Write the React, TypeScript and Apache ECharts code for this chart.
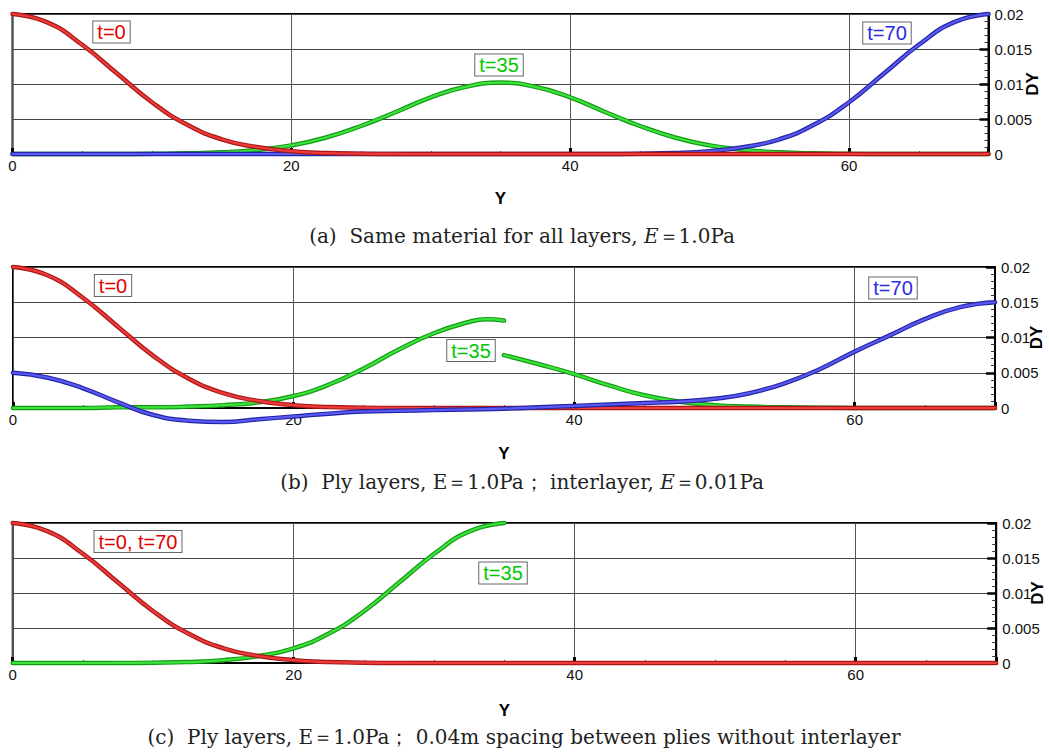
import React, { useEffect, useRef } from "react";
import * as echarts from "echarts";

// Position along Y (x-axis) at 2.5 spacing
const yPositions = [0, 2.5, 5, 7.5, 10, 12.5, 15, 17.5, 20, 22.5, 25, 27.5, 30, 32.5, 35, 37.5, 40, 42.5, 45, 47.5, 50, 52.5, 55, 57.5, 60, 62.5, 65, 67.5, 70];

// (a) same material
const dyA_t0 = [0.02, 0.0188, 0.0156, 0.0115, 0.0074, 0.0042, 0.0021, 0.001, 0.0004, 0.00013, 0.00004, 0.00001, 0, 0, 0, 0, 0, 0, 0, 0, 0, 0, 0, 0, 0, 0, 0, 0, 0];
const dyA_t35 = [0, 0, 0, 0.00001, 0.00003, 0.00009, 0.00024, 0.00058, 0.00123, 0.00236, 0.004, 0.006, 0.0081, 0.0096, 0.0102, 0.0096, 0.0081, 0.006, 0.004, 0.00236, 0.00123, 0.00058, 0.00024, 0.00009, 0.00003, 0.00001, 0, 0, 0];
const dyA_t70 = [0, 0, 0, 0, 0, 0, 0, 0, 0, 0, 0, 0, 0, 0, 0, 0, 0, 0.00001, 0.00004, 0.00013, 0.0004, 0.001, 0.0021, 0.0042, 0.0074, 0.0115, 0.0156, 0.0188, 0.02];

// (b) ply layers with soft interlayer
const dyB_t0 = [0.02, 0.0188, 0.0156, 0.0115, 0.0074, 0.0042, 0.0021, 0.001, 0.0004, 0.00013, 0.00004, 0.00001, 0, 0, 0, 0, 0, 0, 0, 0, 0, 0, 0, 0, 0, 0, 0, 0, 0];
const dyB_t70 = [0.005, 0.0043, 0.0028, 0.0008, -0.001, -0.0018, -0.002, -0.0016, -0.0012, -0.0008, -0.0005, -0.0004, -0.0003, -0.0002, -0.0001, 0.0001, 0.0003, 0.0005, 0.0007, 0.0009, 0.0013, 0.0021, 0.0035, 0.0055, 0.008, 0.0103, 0.0126, 0.0143, 0.015];
const posB_t35Left = [0, 2.5, 5, 7.5, 10, 12.5, 15, 17.5, 20, 22.5, 25, 27.5, 30, 32.5, 33.75, 35];
const dyB_t35Left = [0, 0, 0, 0.0001, 0.0001, 0.0002, 0.0004, 0.0008, 0.0017, 0.0033, 0.0056, 0.0083, 0.0106, 0.0122, 0.0126, 0.0124];
const posB_t35Right = [35, 37.5, 40, 42.5, 45, 47.5, 50, 52.5, 55, 57.5, 60, 62.5, 65, 67.5, 70];
const dyB_t35Right = [0.0075, 0.0062, 0.0048, 0.0032, 0.0018, 0.0009, 0.0004, 0.0002, 0.0001, 0.00005, 0, 0, 0, 0, 0];

// (c) ply layers with spacing, no interlayer
const dyC_t0 = [0.02, 0.0188, 0.0156, 0.0115, 0.0074, 0.0042, 0.0021, 0.001, 0.0004, 0.00013, 0.00004, 0.00001, 0, 0, 0, 0, 0, 0, 0, 0, 0, 0, 0, 0, 0, 0, 0, 0, 0];
const posC_t35 = [0, 2.5, 5, 7.5, 10, 12.5, 15, 17.5, 20, 22.5, 25, 27.5, 30, 32.5, 35];
const dyC_t35 = [0, 0, 0, 0.00001, 0.00004, 0.00013, 0.0004, 0.001, 0.0021, 0.0042, 0.0074, 0.0115, 0.0156, 0.0188, 0.02];

const xTicks = { min: 0, max: 70, interval: 20 };
const yTicks = { min: 0, max: 0.02, interval: 0.005 };

const RED = { edge: "#a81818", core: "#ee3a3a" };
const GREEN = { edge: "#139a13", core: "#3ee23e" };
const BLUE = { edge: "#2424a6", core: "#5a5af2" };

const pairs = (xs: number[], ys: number[]) => xs.map((x, i) => [x, ys[i]]);

function tube(idx: number, xs: number[], ys: number[], c: { edge: string; core: string }) {
  const data = pairs(xs, ys);
  const base = {
    type: "line",
    xAxisIndex: idx,
    yAxisIndex: idx,
    data,
    smooth: 0.5,
    showSymbol: false,
    symbol: "none",
    clip: false,
    silent: true,
  };
  return [
    { ...base, lineStyle: { color: c.edge, width: 4.5, cap: "round", join: "round" } },
    { ...base, lineStyle: { color: c.core, width: 2.2, cap: "round", join: "round" } },
  ];
}

const SANS = '"Liberation Sans", Arial, sans-serif';
const SERIF = '"DejaVu Serif", "Liberation Serif", serif';

function makeX(idx: number, gap: number) {
  return {
    type: "value",
    gridIndex: idx,
    ...xTicks,
    name: "Y",
    nameLocation: "middle",
    nameGap: gap,
    nameMoveOverlap: false,
    nameTextStyle: { fontFamily: SANS, fontWeight: "bold", fontSize: 17, color: "#000" },
    axisLine: { show: true, onZero: false, lineStyle: { color: "#000", width: 2 } },
    axisTick: { show: true, inside: true, length: 6, lineStyle: { color: "#000", width: 3 } },
    minorTick: { show: true, splitNumber: 4, length: 3, lineStyle: { color: "#555", width: 1 } },
    splitLine: { show: true, lineStyle: { color: "#555", width: 1 } },
    axisLabel: { margin: 4, fontFamily: SANS, fontSize: 15, color: "#111", showMaxLabel: false },
  };
}

function makeY(idx: number, gap: number) {
  return {
    type: "value",
    gridIndex: idx,
    position: "right",
    ...yTicks,
    name: "DY",
    nameLocation: "middle",
    nameRotate: 90,
    nameGap: gap,
    nameMoveOverlap: false,
    nameTextStyle: { fontFamily: SANS, fontWeight: "bold", fontSize: 17, color: "#000" },
    axisLine: { show: true, onZero: false, lineStyle: { color: "#000", width: 2 } },
    axisTick: { show: true, inside: true, length: 9, lineStyle: { color: "#000", width: 2.5 } },
    minorTick: { show: true, splitNumber: 5, length: 4, lineStyle: { color: "#333", width: 1 } },
    splitLine: { show: true, lineStyle: { color: "#444", width: 1 } },
    axisLabel: { margin: 6, fontFamily: SANS, fontSize: 15, color: "#111" },
  };
}

function tag(x: number, y: number, text: string, color: string) {
  return {
    type: "text",
    x,
    y,
    z: 100,
    style: {
      text,
      fill: color,
      font: `20px ${SANS}`,
      align: "center",
      verticalAlign: "middle",
      backgroundColor: "#fff",
      borderColor: "#666",
      borderWidth: 1,
      padding: [1, 4, 0, 4],
    },
  };
}

function caption(x: number, y: number, text: string) {
  return {
    type: "text",
    x,
    y,
    z: 100,
    style: {
      text,
      align: "center",
      verticalAlign: "middle",
      fill: "#222",
      rich: {
        n: { fontFamily: SERIF, fontSize: 20, fill: "#222" },
        i: { fontFamily: SERIF, fontSize: 20, fontStyle: "italic", fill: "#222" },
      },
    },
  };
}

export default function App() {
  const ref = useRef<HTMLDivElement>(null);
  useEffect(() => {
    if (!ref.current) return;
    const chart = echarts.init(ref.current, undefined, { renderer: "svg" });
    const gridBase = {
      show: true,
      borderColor: "#000",
      borderWidth: 2,
      backgroundColor: "transparent",
      outerBoundsMode: "none",
      containLabel: false,
    };
    chart.setOption({
      animation: false,
      backgroundColor: "#fff",
      grid: [
        { ...gridBase, left: 12.5, top: 14, width: 976, height: 140 },
        { ...gridBase, left: 13, top: 267, width: 982, height: 141 },
        { ...gridBase, left: 12.7, top: 523, width: 983.5, height: 140 },
      ],
      xAxis: [makeX(0, 36), makeX(1, 37), makeX(2, 39)],
      yAxis: [makeY(0, 35), makeY(1, 33), makeY(2, 33)],
      series: [
        ...tube(0, yPositions, dyA_t35, GREEN),
        ...tube(0, yPositions, dyA_t70, BLUE),
        ...tube(0, yPositions, dyA_t0, RED),
        ...tube(1, posB_t35Left, dyB_t35Left, GREEN),
        ...tube(1, posB_t35Right, dyB_t35Right, GREEN),
        ...tube(1, yPositions, dyB_t0, RED),
        ...tube(1, yPositions, dyB_t70, BLUE),
        ...tube(2, posC_t35, dyC_t35, GREEN),
        ...tube(2, yPositions, dyC_t0, RED),
      ],
      graphic: [
        tag(111.5, 32, "t=0", "#e00000"),
        tag(499, 65, "t=35", "#00c800"),
        tag(887, 33, "t=70", "#2a2ae8"),
        tag(113, 285.5, "t=0", "#e00000"),
        tag(471, 350.5, "t=35", "#00c800"),
        tag(893, 288, "t=70", "#2a2ae8"),
        tag(138, 541.5, "t=0, t=70", "#e00000"),
        tag(503, 573, "t=35", "#00c800"),
        caption(522, 236, "{n|(a)  Same material for all layers, }{i|E}{n|＝1.0Pa}"),
        caption(522, 482, "{n|(b)  Ply layers, E＝1.0Pa； interlayer, }{i|E}{n|＝0.01Pa}"),
        caption(524, 737, "{n|(c)  Ply layers, E＝1.0Pa； 0.04m spacing between plies without interlayer}"),
      ],
    });
    return () => chart.dispose();
  }, []);
  return <div ref={ref} style={{ position: "absolute", left: 0, top: 0, width: 1049, height: 753 }} />;
}
